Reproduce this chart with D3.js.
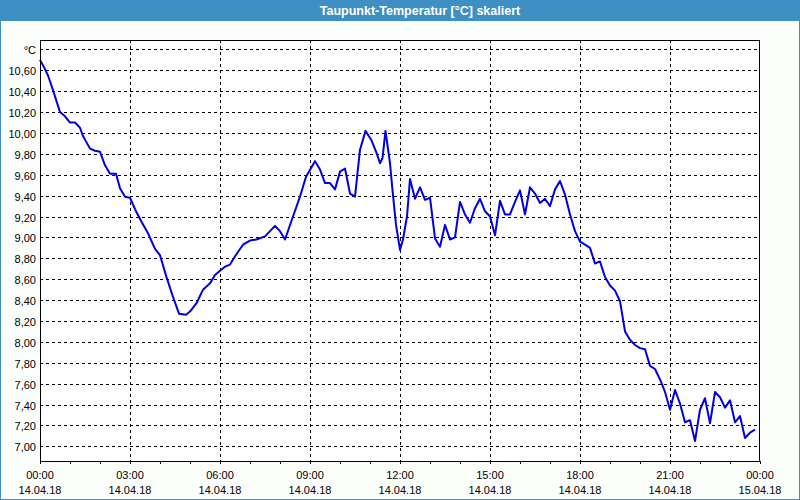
<!DOCTYPE html>
<html><head><meta charset="utf-8">
<script src="https://cdn.jsdelivr.net/npm/d3@7"></script>
<style>html,body{margin:0;padding:0;background:#fcfefc}</style>
</head><body>
<svg id="c" width="800" height="500"></svg>
<script>
const chartTitle = "Taupunkt-Temperatur [°C] skaliert";
const unitLabel = "°C";
// minutes after 14.04.18 00:00
const sampleMinutes = [0,8,16,26,40,50,60,70,80,86,100,110,120,130,140,152,160,170,180,192,203,216,230,240,253,266,278,292,300,313,326,340,350,360,370,380,390,406,420,433,450,460,470,480,490,506,520,532,550,560,570,580,590,600,610,620,630,640,651,663,673,680,685,691,700,704,712,720,726,734,740,750,760,770,780,790,800,810,820,830,840,850,860,870,880,890,900,910,920,930,940,950,960,970,980,990,1000,1010,1020,1030,1040,1050,1060,1070,1080,1090,1100,1110,1120,1130,1140,1150,1160,1170,1180,1190,1200,1210,1220,1230,1240,1250,1260,1270,1280,1290,1300,1310,1320,1330,1340,1350,1360,1370,1380,1390,1400,1410,1420,1430];
const dewPoint = [10.70,10.63,10.55,10.41,10.20,10.16,10.10,10.10,10.05,9.97,9.85,9.83,9.82,9.69,9.61,9.61,9.47,9.39,9.38,9.25,9.15,9.04,8.89,8.83,8.62,8.43,8.27,8.26,8.29,8.37,8.50,8.56,8.64,8.68,8.72,8.74,8.82,8.93,8.97,8.98,9.01,9.06,9.11,9.06,8.98,9.20,9.39,9.58,9.73,9.65,9.52,9.52,9.46,9.63,9.66,9.42,9.39,9.84,10.02,9.93,9.81,9.71,9.76,10.02,9.71,9.50,9.12,8.88,8.98,9.20,9.56,9.37,9.48,9.36,9.38,8.99,8.91,9.12,8.98,9.00,9.34,9.22,9.14,9.28,9.37,9.25,9.20,9.02,9.35,9.22,9.22,9.34,9.45,9.22,9.48,9.42,9.33,9.37,9.30,9.46,9.54,9.41,9.22,9.06,8.96,8.93,8.90,8.75,8.77,8.62,8.54,8.49,8.39,8.10,8.02,7.97,7.94,7.93,7.77,7.74,7.64,7.52,7.35,7.54,7.41,7.23,7.25,7.05,7.35,7.46,7.22,7.52,7.47,7.37,7.44,7.23,7.29,7.08,7.13,7.16];
const yTickValues = [7.0,7.2,7.4,7.6,7.8,8.0,8.2,8.4,8.6,8.8,9.0,9.2,9.4,9.6,9.8,10.0,10.2,10.4,10.6,10.8];
const xTickTimes = ["00:00","03:00","06:00","09:00","12:00","15:00","18:00","21:00","00:00"];
const xTickDates = ["14.04.18","14.04.18","14.04.18","14.04.18","14.04.18","14.04.18","14.04.18","14.04.18","15.04.18"];
const xMajorMinutes = [0,180,360,540,720,900,1080,1260,1440];

const svg = d3.select("#c");
const L = 40, R = 760, T = 40, B = 461;
const x = d3.scaleLinear().domain([0,1440]).range([L,R]);
const y = d3.scaleLinear().domain([7.0, 10.6]).range([446.3, 70.3]);
const font = "'Liberation Sans', Arial, sans-serif";

// background + frame
svg.append("rect").attr("x",0).attr("y",0).attr("width",800).attr("height",500).attr("fill","#fcfefc");
svg.append("rect").attr("x",0).attr("y",0).attr("width",800).attr("height",21).attr("fill","#3d8fc4");
svg.append("rect").attr("x",0.5).attr("y",0.5).attr("width",799).attr("height",499)
  .attr("fill","none").attr("stroke","#3d8fc4");
svg.append("text").attr("x",420).attr("y",15).attr("text-anchor","middle")
  .attr("font-family",font).attr("font-weight","bold").attr("font-size",12.5).attr("fill","#fff")
  .text(chartTitle);

// plot area background
svg.append("rect").attr("x",L).attr("y",T).attr("width",R-L).attr("height",B-T).attr("fill","#fefefe");

// horizontal grid
const g = svg.append("g").attr("shape-rendering","crispEdges");
g.selectAll("line.h").data(yTickValues).join("line")
  .attr("x1",L).attr("x2",R)
  .attr("y1",d=>Math.round(y(d))+0.5).attr("y2",d=>Math.round(y(d))+0.5)
  .attr("stroke","#000").attr("stroke-dasharray","3,3");
// vertical grid
g.selectAll("line.v").data(xMajorMinutes.slice(1,-1)).join("line")
  .attr("y1",T).attr("y2",B)
  .attr("x1",d=>Math.round(x(d))+0.5).attr("x2",d=>Math.round(x(d))+0.5)
  .attr("stroke","#000").attr("stroke-dasharray","3,3");

// y labels
svg.selectAll("text.yl").data(yTickValues).join("text")
  .attr("x",36).attr("y",d=>Math.round(y(d))+4.5).attr("text-anchor","end")
  .attr("font-family",font).attr("font-size",11).attr("fill","#000")
  .text(d=> d>10.7 ? unitLabel : d3.format(".2f")(d).replace(".",","));

// x axis hourly ticks
const xAxis = d3.axisBottom(x).tickValues(d3.range(0,1441,60)).tickSize(3).tickFormat("");
const ax = svg.append("g").attr("transform",`translate(0,${B})`).call(xAxis);
ax.select(".domain").remove();
ax.selectAll("line").attr("stroke","#000").attr("shape-rendering","crispEdges");

svg.selectAll("text.xt").data(xMajorMinutes).join("text")
  .attr("x",d=>x(d)).attr("y",479).attr("text-anchor","middle")
  .attr("font-family",font).attr("font-size",11).attr("fill","#000")
  .text((d,i)=>xTickTimes[i]);
svg.selectAll("text.xd").data(xMajorMinutes).join("text")
  .attr("x",d=>x(d)).attr("y",494).attr("text-anchor","middle")
  .attr("font-family",font).attr("font-size",11).attr("fill","#000")
  .text((d,i)=>xTickDates[i]);

// line
const pts = sampleMinutes.map((m,i)=>[m,dewPoint[i]]);
svg.append("path").datum(pts)
  .attr("d", d3.line().x(d=>x(d[0])).y(d=>y(d[1])))
  .attr("fill","none").attr("stroke","#0000e0").attr("stroke-width",2).attr("stroke-linejoin","round");

// plot border
svg.append("rect").attr("x",L+0.5).attr("y",T+0.5).attr("width",R-L-1).attr("height",B-T)
  .attr("fill","none").attr("stroke","#000").attr("shape-rendering","crispEdges");
</script>
</body></html>
